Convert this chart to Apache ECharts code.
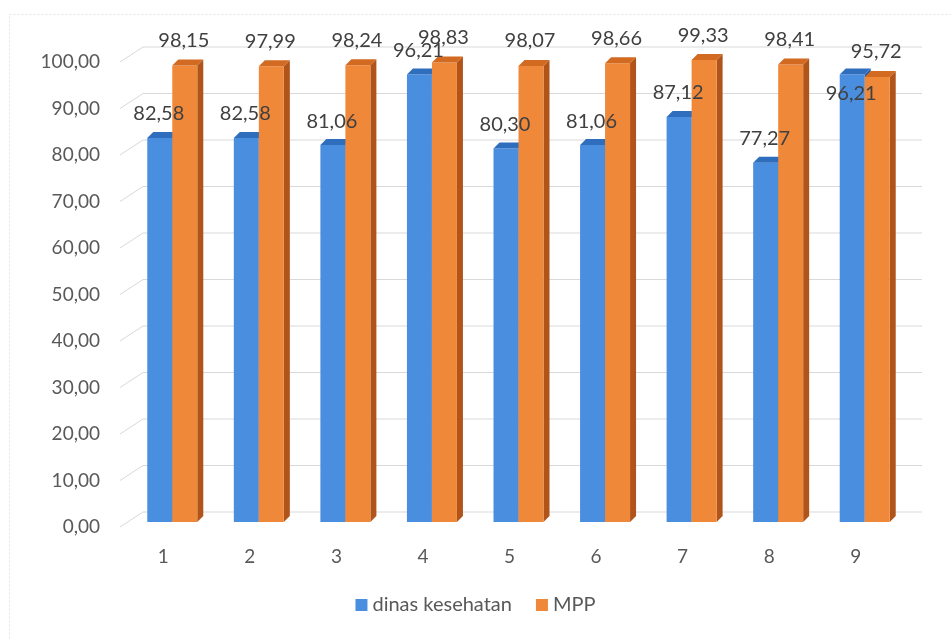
<!DOCTYPE html>
<html>
<head>
<meta charset="utf-8">
<title>dinas kesehatan vs MPP</title>
<script src="https://cdn.jsdelivr.net/npm/echarts@6/dist/echarts.min.js"></script>
<style>
  html, body { margin: 0; padding: 0; background: #fff; }
  #chart { width: 951px; height: 640px; }
</style>
</head>
<body>
<div id="chart"></div>
<script>
// data
const categories = ['1', '2', '3', '4', '5', '6', '7', '8', '9']
const dinasKesehatan = [82.58, 82.58, 81.06, 96.21, 80.30, 81.06, 87.12, 77.27, 96.21]
const mpp = [98.15, 97.99, 98.24, 98.83, 98.07, 98.66, 99.33, 98.41, 95.72]
const yTicks = [0, 10, 20, 30, 40, 50, 60, 70, 80, 90, 100]

// format angka pakai koma
const fmt = v => v.toFixed(2).replace('.', ',')

// offset kedalaman 3D
const WALL_DX = 23, WALL_DY = -15
const BAR_DX = 9, BAR_DY = -5
const DEPTH = 6
const BAR_W = 25
const FONT = '20px Lato, "Open Sans", sans-serif'

const colors = {
  blue: { front: '#4a8fdf', top: '#2f6dbd', side: '#285fa6' },
  orange: { front: '#f0883a', top: '#d26a22', side: '#b0541a' }
}

const myChart = echarts.init(document.getElementById('chart'))

// posisi depan batang (which: 0 = biru, 1 = oranye)
function barBox(api, idx, val, which) {
  const top = api.coord([idx, val])
  const base = api.coord([idx, 0])
  const x0 = top[0] + BAR_DX - BAR_W + which * BAR_W
  return { x0: x0, x1: x0 + BAR_W, yTop: top[1] + BAR_DY, yBot: base[1] + BAR_DY }
}

// bikin batang 3D: depan, samping, atas
function barRenderer(which) {
  const c = which === 0 ? colors.blue : colors.orange
  return function (params, api) {
    const b = barBox(api, api.value(0), api.value(1), which)
    return {
      type: 'group',
      children: [
        {
          type: 'polygon',
          shape: { points: [[b.x1, b.yTop], [b.x1 + DEPTH, b.yTop - DEPTH], [b.x1 + DEPTH, b.yBot - DEPTH], [b.x1, b.yBot]] },
          style: { fill: c.side }
        },
        {
          type: 'rect',
          shape: { x: b.x0, y: b.yTop, width: BAR_W, height: b.yBot - b.yTop },
          style: { fill: c.front }
        },
        {
          type: 'polygon',
          shape: { points: [[b.x0, b.yTop], [b.x1, b.yTop], [b.x1 + DEPTH, b.yTop - DEPTH], [b.x0 + DEPTH, b.yTop - DEPTH]] },
          style: { fill: c.top }
        }
      ]
    }
  }
}

function labelText(b, val, dy) {
  return {
    type: 'text',
    style: {
      x: (b.x0 + b.x1) / 2 - 1,
      y: b.yTop + dy,
      text: fmt(val),
      fill: '#404040',
      font: FONT,
      align: 'center',
      verticalAlign: 'middle'
    }
  }
}

const option = {
  animation: false,
  backgroundColor: '#ffffff',
  graphic: [
    {
      type: 'rect',
      shape: { x: 9.5, y: 14.5, width: 1000, height: 700 },
      style: { fill: 'none', stroke: '#e3e3e3', lineWidth: 1, lineDash: [2, 2] },
      silent: true
    }
  ],
  legend: {
    data: ['dinas kesehatan', 'MPP'],
    left: 'center',
    top: 590,
    icon: 'rect',
    itemWidth: 12,
    itemHeight: 12,
    itemGap: 24,
    textStyle: { color: '#595959', fontSize: 20, fontFamily: 'Lato, "Open Sans", sans-serif' }
  },
  grid: {
    left: 120,
    right: 52,
    top: 62,
    bottom: 113
  },
  xAxis: {
    type: 'category',
    data: categories,
    axisLine: { show: false },
    axisTick: { show: false },
    axisLabel: { color: '#595959', fontSize: 19, margin: 20, fontFamily: 'Lato, "Open Sans", sans-serif' },
    splitLine: { show: false }
  },
  yAxis: {
    type: 'value',
    min: 0,
    max: 100,
    interval: 10,
    axisLine: { show: false },
    axisTick: { show: false },
    splitLine: { show: false },
    axisLabel: {
      color: '#595959',
      fontSize: 19,
      margin: 20,
      fontFamily: 'Lato, "Open Sans", sans-serif',
      formatter: v => fmt(v)
    }
  },
  series: [
    // dinding belakang + garis miring kiri
    {
      type: 'custom',
      name: 'wall',
      silent: true,
      z: 1,
      data: yTicks.map(t => [0, t]),
      renderItem(params, api) {
        const cs = params.coordSys
        const y = api.coord([0, api.value(1)])[1]
        const left = cs.x
        const right = cs.x + cs.width
        return {
          type: 'polyline',
          shape: { points: [[left, y], [left + WALL_DX, y + WALL_DY], [right + WALL_DX, y + WALL_DY]] },
          style: { stroke: '#d9d9d9', lineWidth: 1, fill: null }
        }
      }
    },
    {
      type: 'custom',
      name: 'dinas kesehatan',
      z: 2,
      itemStyle: { color: colors.blue.front },
      data: dinasKesehatan.map((v, i) => [i, v]),
      renderItem: barRenderer(0)
    },
    {
      type: 'custom',
      name: 'MPP',
      z: 3,
      itemStyle: { color: colors.orange.front },
      data: mpp.map((v, i) => [i, v]),
      renderItem: barRenderer(1)
    },
    // label nilai di atas semua batang
    {
      type: 'custom',
      name: 'labels',
      silent: true,
      z: 4,
      data: categories.map((c, i) => [i, dinasKesehatan[i], mpp[i]]),
      renderItem(params, api) {
        const idx = api.value(0)
        const vb = api.value(1)
        const vo = api.value(2)
        const bb = barBox(api, idx, vb, 0)
        const bo = barBox(api, idx, vo, 1)
        // kalau biru lebih tinggi, labelnya masuk ke bawah
        const dyBlue = vb > vo ? 19 : -24
        return {
          type: 'group',
          children: [labelText(bb, vb, dyBlue), labelText(bo, vo, -25)]
        }
      }
    }
  ]
}

option && myChart.setOption(option)
window.addEventListener('resize', () => {
  myChart.resize()
})
</script>
</body>
</html>
